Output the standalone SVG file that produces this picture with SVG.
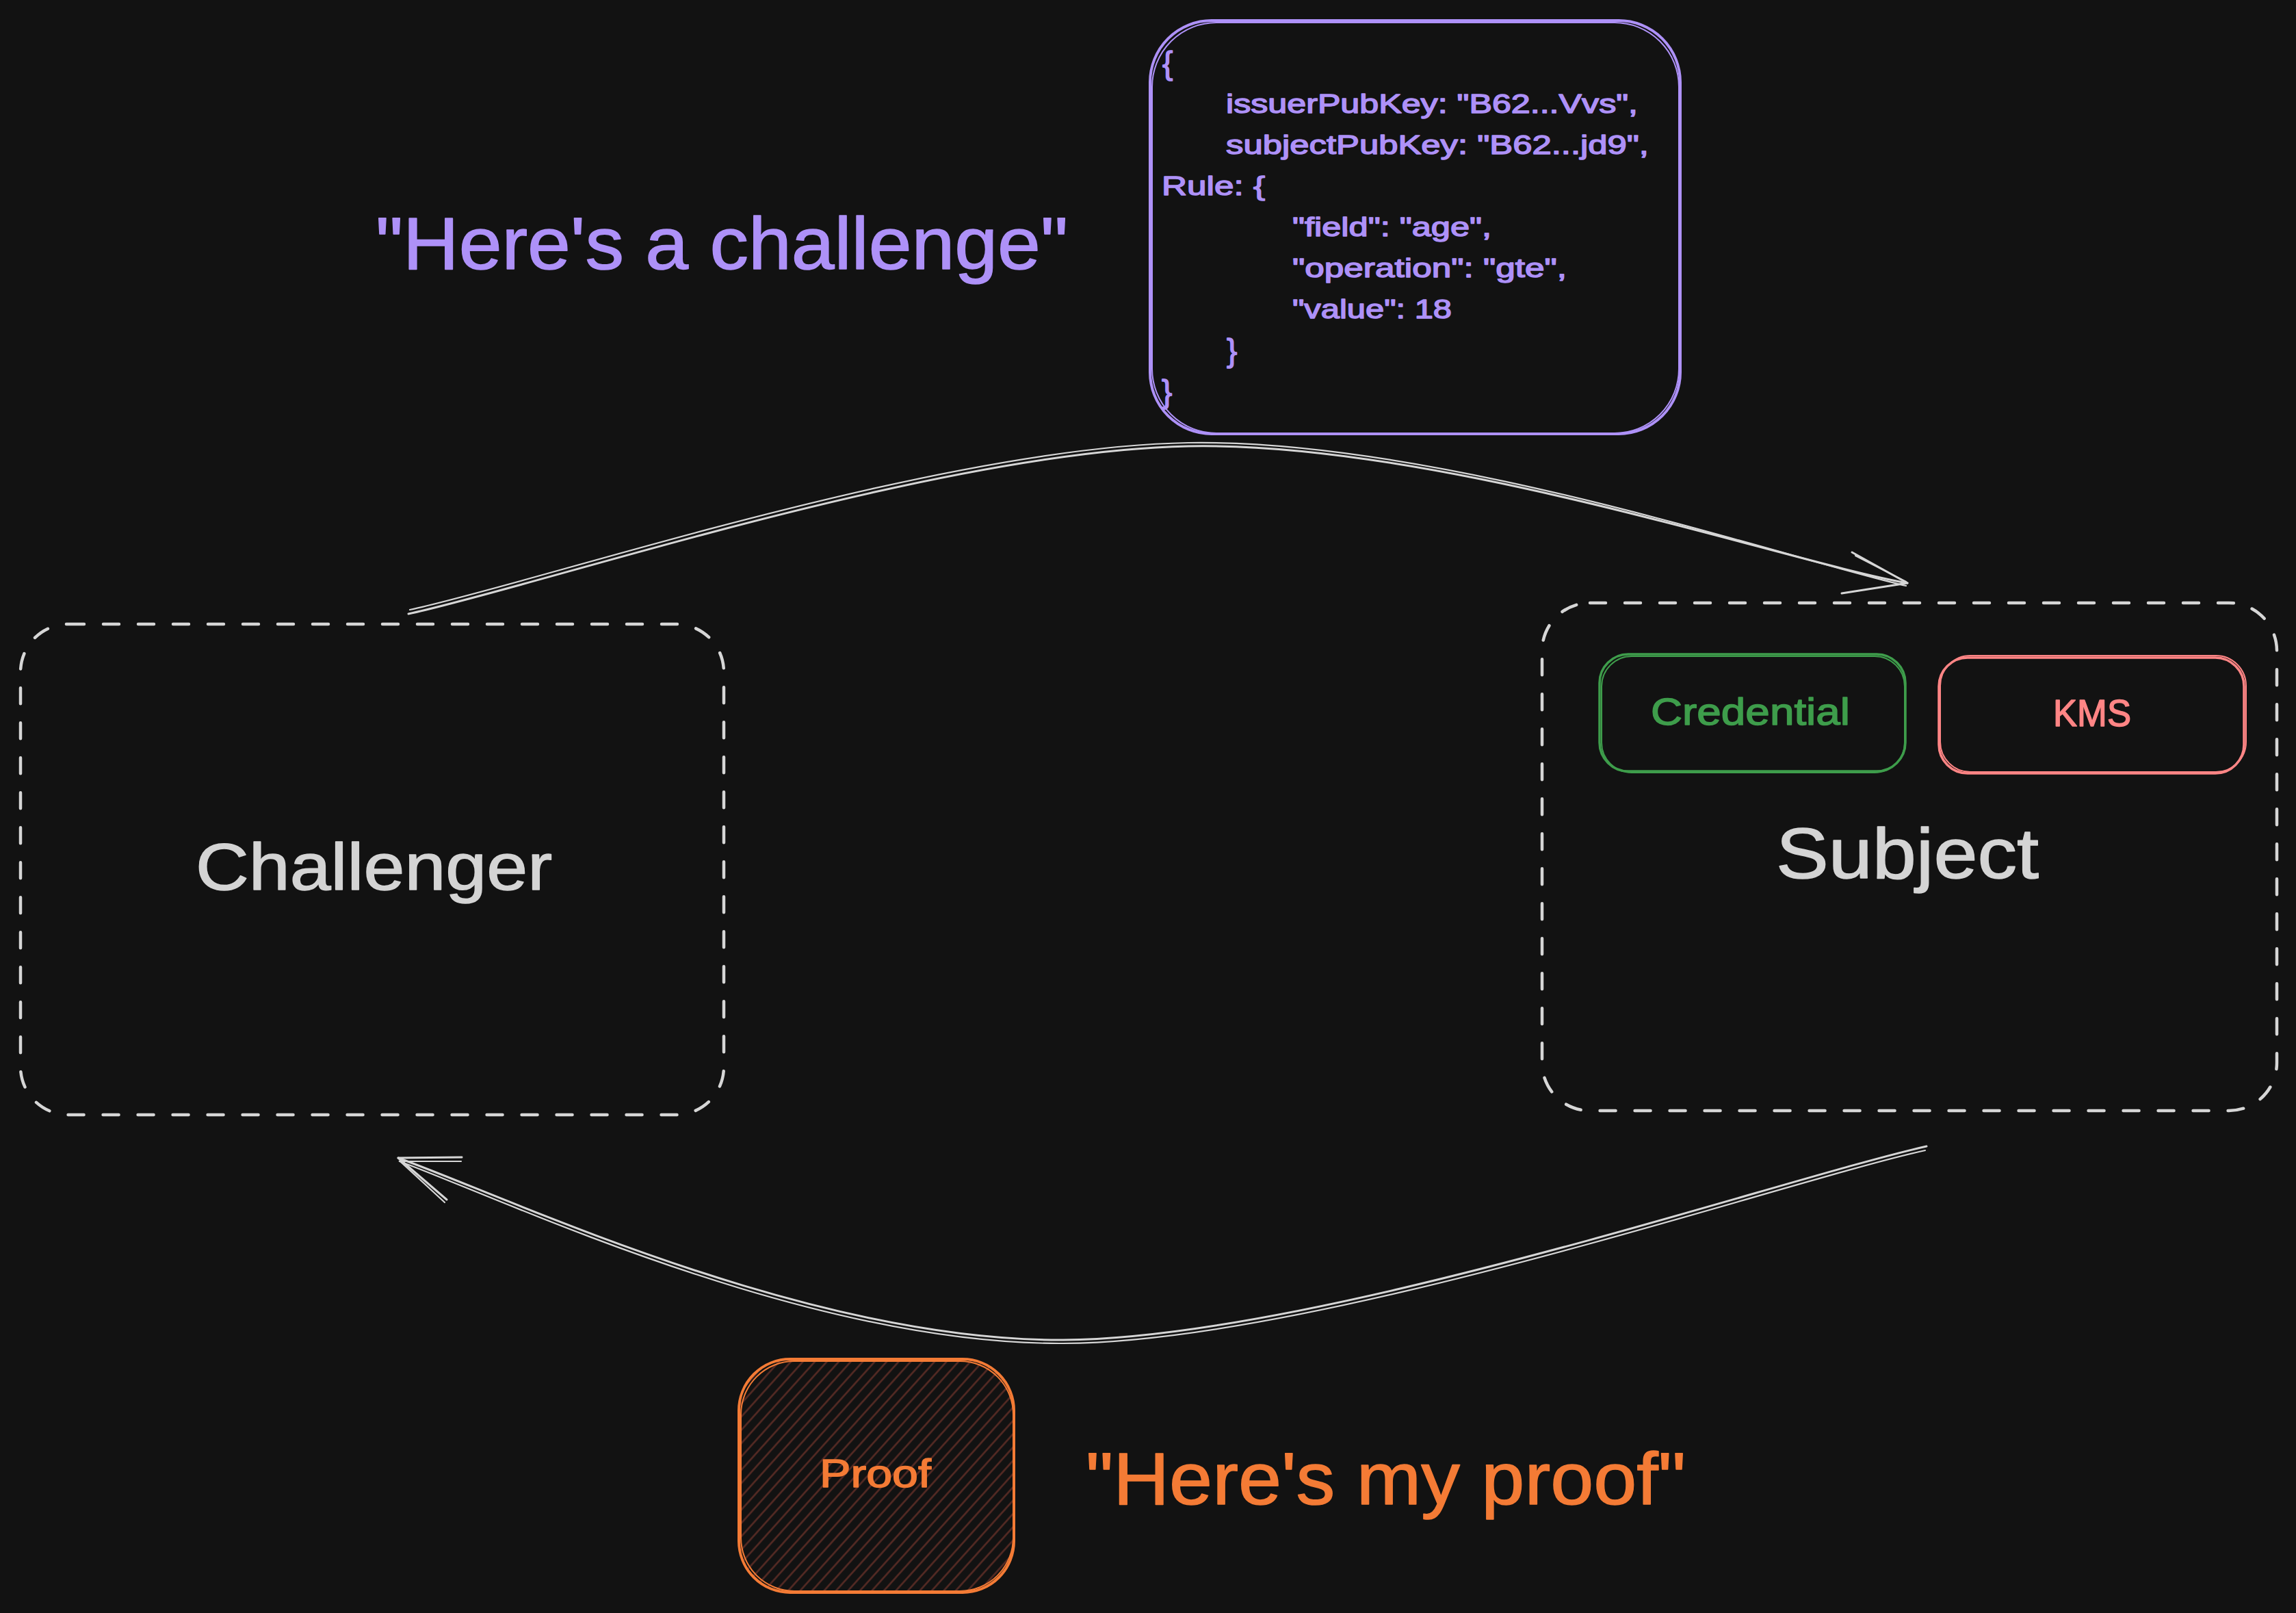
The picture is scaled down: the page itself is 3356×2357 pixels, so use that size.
<svg xmlns="http://www.w3.org/2000/svg" width="3356" height="2357" viewBox="0 0 3356 2357">
  <style>
    .txt { font-family: "Liberation Sans", Arial, sans-serif; stroke-width: 1.5; stroke-linejoin: round; }
    .gray { fill: #d4d4d4; stroke: #d4d4d4; }
    .purple { fill: #ae91f8; stroke: #ae91f8; }
    .orange { fill: #f47b35; stroke: #f47b35; }
    .green { fill: #3e9d4b; stroke: #3e9d4b; }
    .red { fill: #ff8585; stroke: #ff8585; }
    .dash { fill: none; stroke: #d6d6d6; stroke-width: 4.5; stroke-dasharray: 23 28; stroke-linecap: round; }
    .conn { fill: none; stroke: #d6d6d6; stroke-width: 3; stroke-linecap: round; stroke-linejoin: round; }
    .conn2 { fill: none; stroke: #d6d6d6; stroke-width: 2.2; stroke-linecap: round; }
  </style>
  <defs>
    <pattern id="hachure" width="13" height="13" patternUnits="userSpaceOnUse" patternTransform="rotate(42)">
      <line x1="6.5" y1="0" x2="6.5" y2="13" stroke="#5a2c25" stroke-width="2.4"/>
    </pattern>
  </defs>
  <rect x="0" y="0" width="3356" height="2357" fill="#121212"/>

  <g id="challenger">
    <rect class="dash" x="30" y="912" width="1028" height="717" rx="70"/>
    <text class="txt gray" x="286" y="1300" font-size="96" textLength="521" lengthAdjust="spacingAndGlyphs">Challenger</text>
  </g>

  <g id="subject">
    <rect class="dash" x="2254" y="881" width="1074" height="742" rx="70"/>
    <text class="txt gray" x="2596" y="1283" font-size="104" textLength="384" lengthAdjust="spacingAndGlyphs">Subject</text>
  </g>

  <g id="credential">
    <rect x="2338" y="956" width="447" height="171" rx="42" fill="none" stroke="#3e9d4b" stroke-width="3.5"/>
    <rect x="2341" y="959" width="443" height="170" rx="44" fill="none" stroke="#3e9d4b" stroke-width="2"/>
    <text class="txt green" x="2413" y="1059" font-size="56" textLength="291" lengthAdjust="spacingAndGlyphs">Credential</text>
  </g>

  <g id="kms">
    <rect x="2834" y="961" width="446" height="169" rx="42" fill="none" stroke="#ff8585" stroke-width="3.5"/>
    <rect x="2836" y="958" width="447" height="170" rx="44" fill="none" stroke="#ff8585" stroke-width="2"/>
    <text class="txt red" x="3001" y="1061" font-size="55" textLength="114" lengthAdjust="spacingAndGlyphs">KMS</text>
  </g>

  <g id="challenge-code">
    <rect x="1681" y="30" width="775" height="604" rx="90" fill="none" stroke="#ae91f8" stroke-width="4"/>
    <rect x="1684" y="33" width="770" height="600" rx="94" fill="none" stroke="#ae91f8" stroke-width="2"/>
    <g class="txt purple" font-size="39">
      <text x="1699" y="108" font-size="46">{</text>
      <text x="1792" y="165" textLength="602" lengthAdjust="spacingAndGlyphs">issuerPubKey: "B62...Vvs",</text>
      <text x="1792" y="225" textLength="618" lengthAdjust="spacingAndGlyphs">subjectPubKey: "B62...jd9",</text>
      <text x="1698" y="285" textLength="151" lengthAdjust="spacingAndGlyphs">Rule: {</text>
      <text x="1889" y="345" textLength="291" lengthAdjust="spacingAndGlyphs">"field": "age",</text>
      <text x="1889" y="405" textLength="401" lengthAdjust="spacingAndGlyphs">"operation": "gte",</text>
      <text x="1889" y="465" textLength="233" lengthAdjust="spacingAndGlyphs">"value": 18</text>
      <text x="1793" y="528" font-size="46">}</text>
      <text x="1698" y="588" font-size="46">}</text>
    </g>
  </g>

  <g id="challenge-label">
    <text class="txt purple" x="549" y="393" font-size="108" textLength="1012" lengthAdjust="spacingAndGlyphs">"Here's a challenge"</text>
  </g>

  <g id="proof">
    <rect x="1080" y="1986" width="402" height="341" rx="75" fill="url(#hachure)"/>
    <rect x="1080" y="1986" width="402" height="341" rx="75" fill="none" stroke="#f47b35" stroke-width="4"/>
    <rect x="1083" y="1989" width="398" height="336" rx="78" fill="none" stroke="#f47b35" stroke-width="2"/>
    <text class="txt orange" x="1198" y="2173" font-size="57" textLength="163" lengthAdjust="spacingAndGlyphs">Proof</text>
  </g>

  <g id="proof-label">
    <text class="txt orange" x="1587" y="2198" font-size="108" textLength="877" lengthAdjust="spacingAndGlyphs">"Here's my proof"</text>
  </g>

  <g id="connectors">
    <path class="conn" d="M597 897 C788 856 1372 659 1737 652 C2102 645 2611 821 2788 852"/>
    <path class="conn2" d="M599 891 C790 850 1372 653 1737 647 C2102 641 2611 816 2786 856"/>
    <path class="conn" d="M2707 807 L2788 852 L2692 867"/>
    <path class="conn2" d="M2712 812 L2786 850"/>
    <path class="conn" d="M2816 1675 C2606 1722 1926 1955 1554 1958 C1182 1960 744 1750 582 1692"/>
    <path class="conn2" d="M2814 1681 C2606 1727 1926 1961 1554 1963 C1182 1965 744 1756 584 1697"/>
    <path class="conn" d="M675 1691 L582 1692 L653 1753"/>
    <path class="conn2" d="M674 1697 L585 1697 L650 1757"/>
  </g>
</svg>
